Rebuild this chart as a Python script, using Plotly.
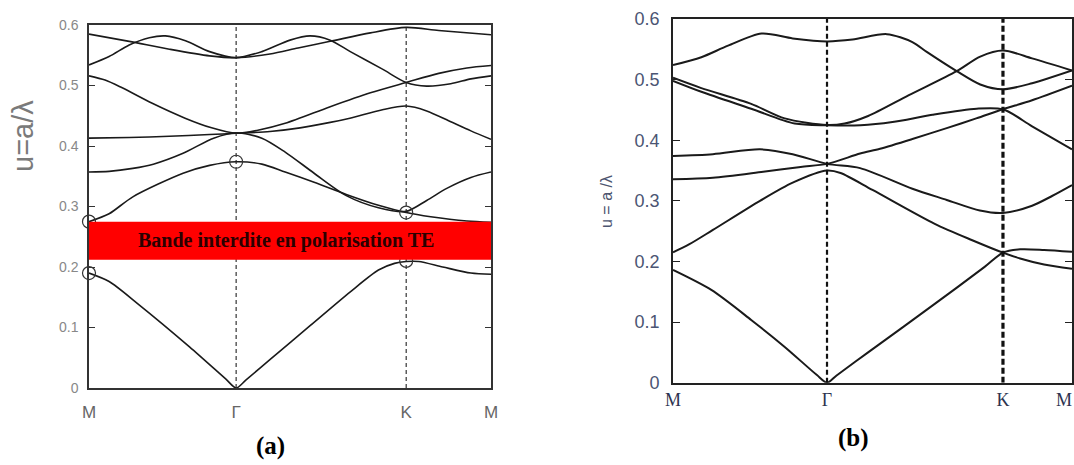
import plotly.graph_objects as go

# ---------------- Panel (a) data ----------------
a_sym_k = [0, 0.366, 0.789, 1]
a_sym_labels = ["M", "Γ", "K", "M"]
a_yticks = [0, 0.1, 0.2, 0.3, 0.4, 0.5, 0.6]
a_ytick_labels = ["0", "0.1", "0.2", "0.3", "0.4", "0.5", "0.6"]

a1_k = [0, 0.05, 0.12, 0.25, 0.34, 0.366, 0.39, 0.45, 0.55, 0.65, 0.72, 0.76, 0.789, 0.82, 0.88, 0.95, 1]
a1_u = [0.19, 0.176, 0.14, 0.068, 0.015, 0.0, 0.013, 0.047, 0.103, 0.159, 0.195, 0.206, 0.209, 0.209, 0.2, 0.19, 0.188]

a2_k = [0, 0.05, 0.109, 0.234, 0.3, 0.366, 0.43, 0.488, 0.56, 0.64, 0.72, 0.789, 0.85, 0.94, 1]
a2_u = [0.275, 0.288, 0.316, 0.355, 0.368, 0.374, 0.37, 0.357, 0.34, 0.32, 0.302, 0.29, 0.283, 0.276, 0.274]

a3_k = [0, 0.05, 0.109, 0.16, 0.234, 0.31, 0.366, 0.43, 0.488, 0.56, 0.64, 0.72, 0.789, 0.84, 0.89, 0.95, 1]
a3_u = [0.357, 0.358, 0.363, 0.37, 0.388, 0.413, 0.422, 0.413, 0.39, 0.355, 0.318, 0.298, 0.292, 0.31, 0.33, 0.348, 0.357]

a4_k = [0, 0.1, 0.2, 0.3, 0.366, 0.45, 0.525, 0.6, 0.649, 0.73, 0.789, 0.84, 0.9, 0.95, 1]
a4_u = [0.413, 0.414, 0.416, 0.419, 0.421, 0.424, 0.43, 0.439, 0.446, 0.46, 0.466, 0.458, 0.44, 0.425, 0.411]

a5_k = [0, 0.04, 0.08, 0.156, 0.239, 0.305, 0.366, 0.42, 0.488, 0.6, 0.7, 0.789, 0.87, 0.94, 1]
a5_u = [0.516, 0.509, 0.497, 0.471, 0.446, 0.43, 0.421, 0.426, 0.4375, 0.465, 0.488, 0.505, 0.52, 0.529, 0.533]

a6_k = [0, 0.05, 0.1, 0.15, 0.19, 0.24, 0.3, 0.366, 0.43, 0.5, 0.55, 0.6, 0.65, 0.73, 0.789, 0.84, 0.9, 0.95, 1]
a6_u = [0.534, 0.548, 0.567, 0.579, 0.582, 0.574, 0.556, 0.546, 0.556, 0.575, 0.582, 0.575, 0.556, 0.527, 0.505, 0.499, 0.503, 0.511, 0.516]

a7_k = [0, 0.1, 0.2, 0.3, 0.366, 0.45, 0.52, 0.6, 0.7, 0.789, 0.87, 1]
a7_u = [0.585, 0.573, 0.56, 0.549, 0.546, 0.552, 0.562, 0.573, 0.587, 0.596, 0.591, 0.584]

a_circle_k = [0, 0, 0.366, 0.789, 0.789]
a_circle_u = [0.275, 0.19, 0.374, 0.29, 0.21]

a_gap = [0.212, 0.275]
a_gap_text = "Bande interdite en polarisation TE"

# ---------------- Panel (b) data ----------------
b_sym_k = [0, 0.386, 0.827, 1]
b_sym_labels = ["M", "Γ", "K", "M"]

b1_k = [0, 0.096, 0.196, 0.28, 0.36, 0.386, 0.41, 0.489, 0.656, 0.781, 0.827, 0.87, 0.93, 1]
b1_u = [0.186, 0.153, 0.1035, 0.059, 0.013, 0.0, 0.012, 0.05, 0.13, 0.191, 0.2145, 0.22, 0.219, 0.216]

b2_k = [0, 0.04, 0.1, 0.218, 0.3, 0.386, 0.42, 0.5, 0.656, 0.75, 0.827, 0.87, 0.93, 1]
b2_u = [0.215, 0.228, 0.252, 0.3, 0.33, 0.35, 0.346, 0.318, 0.262, 0.235, 0.2145, 0.205, 0.195, 0.188]

b3_k = [0, 0.1, 0.226, 0.32, 0.386, 0.469, 0.519, 0.6, 0.686, 0.76, 0.827, 0.9, 1]
b3_u = [0.3356, 0.338, 0.348, 0.356, 0.361, 0.378, 0.386, 0.402, 0.42, 0.436, 0.451, 0.466, 0.49]

b4_k = [0, 0.1, 0.218, 0.3, 0.386, 0.469, 0.6, 0.686, 0.769, 0.827, 0.9, 0.95, 1]
b4_u = [0.374, 0.377, 0.385, 0.377, 0.361, 0.354, 0.32, 0.3015, 0.284, 0.28, 0.292, 0.308, 0.326]

b5_k = [0, 0.071, 0.196, 0.305, 0.386, 0.47, 0.55, 0.65, 0.761, 0.827, 0.9, 1]
b5_u = [0.498, 0.48, 0.452, 0.4275, 0.4247, 0.4247, 0.43, 0.442, 0.452, 0.451, 0.423, 0.385]

b6_k = [0, 0.071, 0.196, 0.28, 0.386, 0.43, 0.489, 0.59, 0.711, 0.77, 0.827, 0.9, 1]
b6_u = [0.503, 0.486, 0.46, 0.436, 0.425, 0.4275, 0.44, 0.474, 0.514, 0.538, 0.548, 0.535, 0.515]

b7_k = [0, 0.071, 0.138, 0.222, 0.3, 0.386, 0.45, 0.536, 0.6, 0.636, 0.711, 0.77, 0.827, 0.9, 1]
b7_u = [0.524, 0.537, 0.556, 0.576, 0.568, 0.563, 0.566, 0.575, 0.562, 0.5457, 0.514, 0.492, 0.484, 0.494, 0.515]

W, H = 1074, 465

fig = go.Figure()

def px_x(p):
    return p / W

def px_y(p):
    return 1 - p / H

# ---- Panel (a) ----
a_bands = [(a1_k, a1_u), (a2_k, a2_u), (a3_k, a3_u), (a4_k, a4_u),
           (a5_k, a5_u), (a6_k, a6_u), (a7_k, a7_u)]
for kk, uu in a_bands:
    fig.add_trace(go.Scatter(x=kk, y=uu, mode="lines", xaxis="x", yaxis="y",
                             line=dict(color="#1a1a1a", width=1.6, shape="spline", smoothing=0.8),
                             showlegend=False, hoverinfo="skip"))
for kv in a_sym_k[1:3]:
    fig.add_trace(go.Scatter(x=[kv, kv], y=[a_yticks[0], a_yticks[-1]], mode="lines",
                             xaxis="x", yaxis="y",
                             line=dict(color="#222", width=1.1, dash="4px,3px"),
                             showlegend=False, hoverinfo="skip"))
fig.add_trace(go.Scatter(x=a_circle_k, y=a_circle_u, mode="markers", xaxis="x", yaxis="y",
                         marker=dict(symbol="circle-open", size=13, color="#333",
                                     line=dict(width=1.2, color="#333")),
                         cliponaxis=False, showlegend=False, hoverinfo="skip"))

# ---- Panel (b) ----
b_bands = [(b1_k, b1_u), (b2_k, b2_u), (b3_k, b3_u), (b4_k, b4_u),
           (b5_k, b5_u), (b6_k, b6_u), (b7_k, b7_u)]
for kk, uu in b_bands:
    fig.add_trace(go.Scatter(x=kk, y=uu, mode="lines", xaxis="x2", yaxis="y2",
                             line=dict(color="#1a1a1a", width=2, shape="spline", smoothing=0.8),
                             showlegend=False, hoverinfo="skip"))
fig.add_trace(go.Scatter(x=[b_sym_k[1], b_sym_k[1]], y=[0, 0.6], mode="lines",
                         xaxis="x2", yaxis="y2",
                         line=dict(color="#111", width=2.2, dash="5px,3px"),
                         showlegend=False, hoverinfo="skip"))
fig.add_trace(go.Scatter(x=[b_sym_k[2], b_sym_k[2]], y=[0, 0.6], mode="lines",
                         xaxis="x2", yaxis="y2",
                         line=dict(color="#111", width=3.2, dash="6px,3px"),
                         showlegend=False, hoverinfo="skip"))

# red band gap rectangle (above traces)
shapes = [dict(type="rect", xref="x", yref="y", x0=0, x1=1, y0=a_gap[0], y1=a_gap[1],
               fillcolor="#ff0000", line=dict(width=0), layer="above")]

C = dict(xanchor="center", yanchor="middle", showarrow=False)
annotations = [
    dict(x=0.49, y=(a_gap[0] + a_gap[1]) / 2, xref="x", yref="y", text="<b>" + a_gap_text + "</b>",
         font=dict(family="Liberation Serif", size=20, color="#2a0000"), **C),
    dict(x=px_x(23), y=px_y(136), xref="paper", yref="paper", text="u=a/λ", textangle=-90,
         font=dict(family="Liberation Sans", size=29, color="#7a7a7a"), **C),
    dict(x=px_x(607), y=px_y(202), xref="paper", yref="paper", text="u = a /λ", textangle=-90,
         font=dict(family="Liberation Sans", size=16, color="#4d5570"), **C),
    dict(x=px_x(270), y=px_y(446), xref="paper", yref="paper", text="<b>(a)</b>",
         font=dict(family="Liberation Serif", size=25, color="#000"), **C),
    dict(x=px_x(853), y=px_y(438), xref="paper", yref="paper", text="<b>(b)</b>",
         font=dict(family="Liberation Serif", size=25, color="#000"), **C),
    # last M label of panel (b), right-aligned so it stays inside the page
    dict(x=1.0, y=px_y(400), xref="paper", yref="paper", text=b_sym_labels[-1],
         xanchor="right", yanchor="middle", showarrow=False,
         font=dict(family="Liberation Serif", size=18, color="#2d3350")),
]

fig.update_layout(
    width=W, height=H, margin=dict(l=0, r=0, t=0, b=0),
    paper_bgcolor="white", plot_bgcolor="white",
    shapes=shapes, annotations=annotations,
    xaxis=dict(domain=[px_x(89), px_x(491)], range=[0, 1], tickvals=a_sym_k, ticktext=a_sym_labels,
               showgrid=False, zeroline=False, showline=True, linecolor="#333", linewidth=1.5,
               mirror=True, ticks="", ticklabelstandoff=8, automargin=False,
               ticklabeloverflow="allow",
               tickfont=dict(family="Liberation Sans", size=17, color="#666"), anchor="y"),
    yaxis=dict(domain=[px_y(388), px_y(25)], range=[0, 0.6], tickvals=a_yticks, ticktext=a_ytick_labels,
               showgrid=False, zeroline=False, showline=True, linecolor="#333", linewidth=1.5,
               mirror="ticks", ticks="inside", ticklen=6, tickcolor="#333",
               ticklabelstandoff=6, automargin=False,
               tickfont=dict(family="Liberation Sans", size=14, color="#888"), anchor="x"),
    xaxis2=dict(domain=[px_x(673), px_x(1072)], range=[0, 1], tickvals=b_sym_k[:3],
                ticktext=b_sym_labels[:3],
                showgrid=False, zeroline=False, showline=True, linecolor="#222", linewidth=1.8,
                mirror=True, ticks="", ticklabelstandoff=0, automargin=False,
                ticklabeloverflow="allow",
                tickfont=dict(family="Liberation Serif", size=18, color="#2d3350"), anchor="y2"),
    yaxis2=dict(domain=[px_y(382.7), px_y(19)], range=[0, 0.6], tickvals=a_yticks, ticktext=a_ytick_labels,
                showgrid=False, zeroline=False, showline=True, linecolor="#222", linewidth=1.8,
                mirror="ticks", ticks="inside", ticklen=7, tickcolor="#222",
                ticklabelstandoff=8, automargin=False,
                tickfont=dict(family="Liberation Sans", size=18, color="#4b5573"), anchor="x2"),
)

fig.write_html("out.html")
